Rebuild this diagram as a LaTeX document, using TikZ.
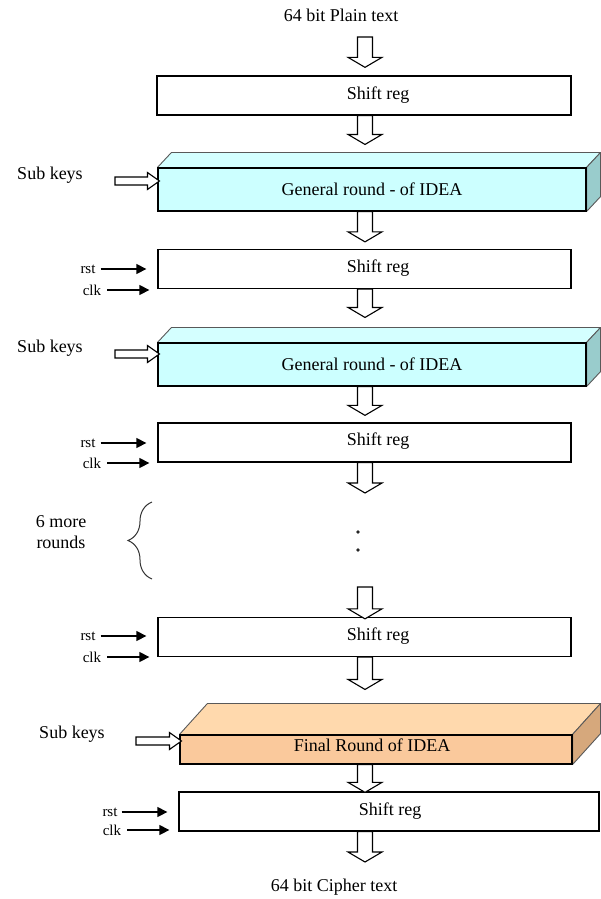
\documentclass[tikz,border=0pt]{standalone}
\usepackage{fontspec}
\setmainfont{Liberation Serif}
\usetikzlibrary{calc,arrows.meta,decorations.pathreplacing,backgrounds}

\definecolor{cyanfront}{HTML}{CCFFFF}
\definecolor{cyantop}{HTML}{D4FFFF}
\definecolor{cyanside}{HTML}{99CCCC}
\definecolor{orangefront}{HTML}{FAC99C}
\definecolor{orangetop}{HTML}{FFD9AD}
\definecolor{orangeside}{HTML}{D6A87C}

% wide hollow arrow pointing down: #1 start, #2 tip (x taken from #1)
\newcommand\fatdown[2]{%
  \draw[hollow] let \p1=#1, \p2=#2 in
    ({\x1-7.5pt},\y1) -- ({\x1-7.5pt},{\y2+10pt}) -- ({\x1-17pt},{\y2+10pt})
    -- (\x1,\y2) -- ({\x1+17pt},{\y2+10pt}) -- ({\x1+7.5pt},{\y2+10pt})
    -- ({\x1+7.5pt},\y1) -- cycle;}
% wide hollow arrow pointing right: #1 start (x only), #2 tip
\newcommand\fatright[2]{%
  \draw[hollow] let \p1=#1, \p2=#2 in
    (\x1,{\y2+4pt}) -- ({\x2-12pt},{\y2+4pt}) -- ({\x2-12pt},{\y2+8.5pt})
    -- (\x2,\y2) -- ({\x2-12pt},{\y2-8.5pt}) -- ({\x2-12pt},{\y2-4pt})
    -- (\x1,{\y2-4pt}) -- cycle;}

\begin{document}
\begin{tikzpicture}[x=1pt,y=-1pt,
  font=\fontsize{18}{21}\selectfont,
  lbl/.style={inner sep=0pt},
  sml/.style={inner sep=0pt,font=\fontsize{15}{17}\selectfont},
  regbox/.style={draw=black,line width=1.3pt,fill=white,inner sep=0pt,minimum height=39pt},
  front/.style={draw=black,line width=1.1pt,inner sep=0pt},
  sideface/.style={draw=black!65,line width=0.9pt,line join=round},
  hollow/.style={draw=black,line width=1.1pt,fill=white,line join=miter},
  sig/.style={line width=1.3pt,-{Triangle[length=10pt,width=10pt]}},
  bracepath/.style={draw=black!80,line width=1pt,decorate,decoration={brace,amplitude=24pt}}]
\useasboundingbox (0,0) rectangle (600,899);

\coordinate (ax) at (365,0);

% input text and first register
\node[lbl] (plain) at (341,15) {64 bit Plain text};
\node[regbox,minimum width=414pt] (s1) at (364,95.5) {};
\node[lbl] (t1) at (378,95) {Shift reg};

% first general round
\node[front,fill=cyanfront,minimum width=428pt,minimum height=43pt] (g1) at (372,189.5) {General round - of IDEA};
\begin{scope}[on background layer]
  \filldraw[sideface,fill=cyantop] (g1.north west) -- ++(14,-15) -- ([shift={(14,-15)}]g1.north east) -- (g1.north east) -- cycle;
  \filldraw[sideface,fill=cyanside] (g1.north east) -- ++(14,-15) -- ([shift={(14,-15)}]g1.south east) -- (g1.south east) -- cycle;
\end{scope}
\node[lbl] (k1) at (50,175) {Sub keys};

% second register
\node[regbox,minimum width=413pt] (s2) at (364.5,269) {};
\node[lbl] (t2) at (378,268) {Shift reg};
\node[sml] (r2) at (88,269) {rst};
\node[sml] (c2) at (92,290) {clk};

% second general round
\node[front,fill=cyanfront,minimum width=428pt,minimum height=43pt] (g2) at (372,364.5) {General round - of IDEA};
\begin{scope}[on background layer]
  \filldraw[sideface,fill=cyantop] (g2.north west) -- ++(14,-15) -- ([shift={(14,-15)}]g2.north east) -- (g2.north east) -- cycle;
  \filldraw[sideface,fill=cyanside] (g2.north east) -- ++(14,-15) -- ([shift={(14,-15)}]g2.south east) -- (g2.south east) -- cycle;
\end{scope}
\node[lbl] (k2) at (50,348) {Sub keys};

% third register
\node[regbox,minimum width=413pt] (s3) at (364.5,442.5) {};
\node[lbl] (t3) at (378,441) {Shift reg};
\node[sml] (r3) at (88,443) {rst};
\node[sml] (c3) at (92,463) {clk};

% the six rounds in between
\node[lbl,align=center] (more) at (61,532) {6 more\\rounds};
\draw[bracepath] (152,579) -- (152,502);
\fill[black!85] (358,532) circle (1.8);
\fill[black!85] (358,550) circle (1.8);
\coordinate (gapin) at (365,493);
\coordinate (gapout) at (365,587);

% fourth register
\node[regbox,minimum width=413pt] (s4) at (364.5,637) {};
\node[lbl] (t4) at (378,636) {Shift reg};
\node[sml] (r4) at (88,636) {rst};
\node[sml] (c4) at (92,657) {clk};

% final round
\node[front,fill=orangefront,minimum width=392pt,minimum height=29pt] (fin) at (376,749.5) {};
\node[lbl] (tf) at (372,745) {Final Round of IDEA};
\begin{scope}[on background layer]
  \filldraw[sideface,fill=orangetop] (fin.north west) -- ++(28,-31) -- ([shift={(28,-31)}]fin.north east) -- (fin.north east) -- cycle;
  \filldraw[sideface,fill=orangeside] (fin.north east) -- ++(28,-31) -- ([shift={(28,-31)}]fin.south east) -- (fin.south east) -- cycle;
\end{scope}
\node[lbl] (kf) at (72,734) {Sub keys};

% last register and output
\node[regbox,minimum width=420pt] (s5) at (389,811.5) {};
\node[lbl] (t5) at (390,811) {Shift reg};
\node[sml] (r5) at (110,812) {rst};
\node[sml] (c5) at (112,830) {clk};
\node[lbl] (cipher) at (334,887) {64 bit Cipher text};

% data path
\coordinate (in1) at (365,37);
\coordinate (out1) at (365,862);
\fatdown{(in1)}{($(s1.north -| ax)+(0,-8)$)}
\fatdown{(s1.south -| ax)}{($(g1.north -| ax)+(0,-23)$)}
\fatdown{(g1.south -| ax)}{($(s2.north -| ax)+(0,-7)$)}
\fatdown{(s2.south -| ax)}{($(g2.north -| ax)+(0,-25)$)}
\fatdown{(g2.south -| ax)}{($(s3.north -| ax)+(0,-7)$)}
\fatdown{(s3.south -| ax)}{(gapin)}
\fatdown{(gapout)}{($(s4.north -| ax)+(0,2)$)}
\fatdown{(s4.south -| ax)}{($(fin.north -| ax)+(0,-45)$)}
\fatdown{(fin.south -| ax)}{($(s5.north -| ax)+(0,1)$)}
\fatdown{(s5.south -| ax)}{(out1)}

% sub key inputs
\fatright{([xshift=32pt]k1.east)}{($(g1.west)+(2,-8.5)$)}
\fatright{([xshift=32pt]k2.east)}{($(g2.west)+(2,-10.5)$)}
\fatright{([xshift=31pt]kf.east)}{($(fin.west)+(2,-8.5)$)}

% reset and clock inputs
\draw[sig] ([xshift=5pt]r2.east) -- ($(s2.west |- r2)+(-11,0)$);
\draw[sig] ([xshift=6pt]c2.east) -- ($(s2.west |- c2)+(-8,0)$);
\draw[sig] ([xshift=5pt]r3.east) -- ($(s3.west |- r3)+(-11,0)$);
\draw[sig] ([xshift=6pt]c3.east) -- ($(s3.west |- c3)+(-8,0)$);
\draw[sig] ([xshift=5pt]r4.east) -- ($(s4.west |- r4)+(-11,0)$);
\draw[sig] ([xshift=6pt]c4.east) -- ($(s4.west |- c4)+(-8,0)$);
\draw[sig] ([xshift=4pt]r5.east) -- ($(s5.west |- r5)+(-11,0)$);
\draw[sig] ([xshift=6pt]c5.east) -- ($(s5.west |- c5)+(-9,0)$);
\end{tikzpicture}
\end{document}
